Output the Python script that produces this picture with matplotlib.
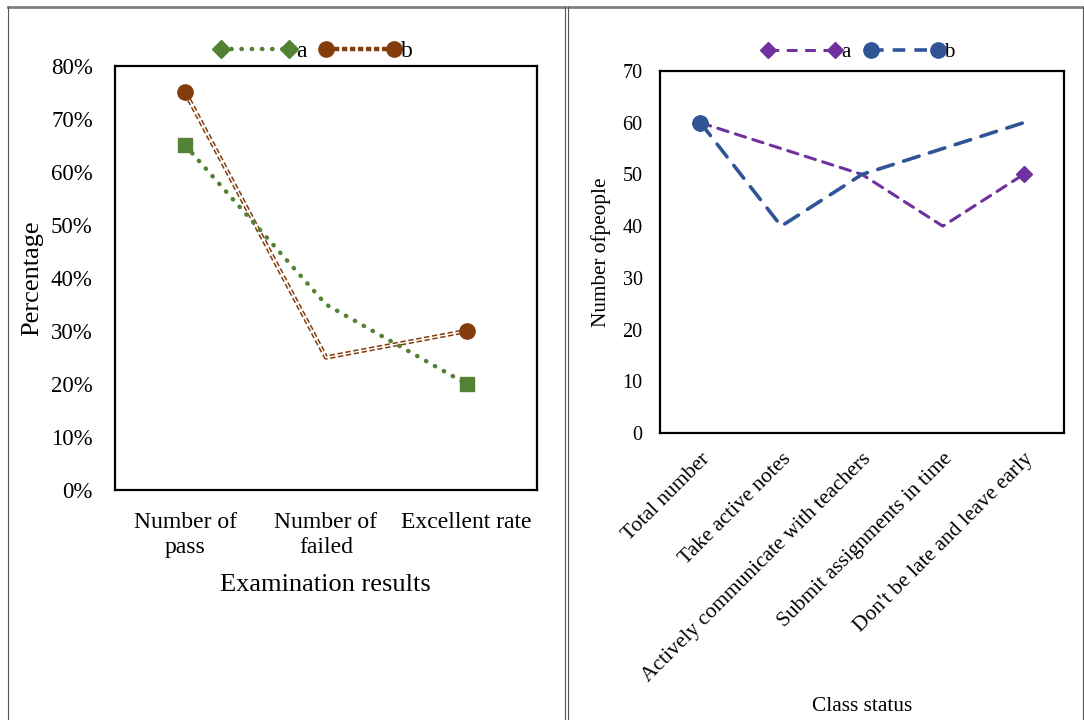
import matplotlib.pyplot as plt
from matplotlib.lines import Line2D

plt.rcParams['font.family'] = ['Liberation Serif', 'DejaVu Serif']

# ---- data ----
exam_cats = ['Number of\npass', 'Number of\nfailed', 'Excellent rate']
exam_a = [65, 35, 20]   # percent
exam_b = [75, 25, 30]

class_cats = ['Total number', 'Take active notes', 'Actively communicate with teachers',
              'Submit assignments in time', "Don't be late and leave early"]
class_a = [60, 55, 50, 40, 50]
class_b = [60, 40, 50, 55, 60]

green = '#548235'
brown = '#843C0C'
purple = '#7030A0'
blue = '#2F5597'

W, H = 1084, 720
fig = plt.figure(figsize=(W / 100, H / 100), dpi=100)

def px(x0, y0, x1, y1):
    return [x0 / W, 1 - y1 / H, (x1 - x0) / W, (y1 - y0) / H]

# table-cell borders around the two panels
for x0, x1 in [(8, 565), (568, 1083)]:
    fig.add_artist(Line2D([x0 / W, x1 / W], [1 - 7 / H, 1 - 7 / H], color='#808080', lw=2,
                          transform=fig.transFigure))
    for x in (x0, x1):
        fig.add_artist(Line2D([x / W, x / W], [0, 1 - 7 / H], color='#555555', lw=0.8,
                              transform=fig.transFigure))

# ---------------------------------------------------------
# left: examination results
# ---------------------------------------------------------
ax = fig.add_axes(px(115, 66, 537, 490))
x = range(len(exam_cats))

ax.plot(x, exam_a, color=green, lw=3.2, linestyle=(0, (0.1, 2.2)), dash_capstyle='round',
        marker='s', ms=10, markevery=[0, 2], zorder=3)
# double-line look for series b
ax.plot(x, exam_b, color=brown, lw=3.2, linestyle=(0, (1.2, 0.6)), zorder=2)
ax.plot(x, exam_b, color='white', lw=1.0, zorder=2)
ax.plot([0, 2], [exam_b[0], exam_b[2]], linestyle='none', marker='o', ms=11,
        color=brown, zorder=4)

ax.set_xlim(-0.5, 2.5)
ax.set_ylim(0, 80)
ax.set_yticks(range(0, 81, 10))
ax.set_yticklabels([f'{v}%' for v in range(0, 81, 10)])
ax.set_xticks(list(x))
ax.set_xticklabels(exam_cats, linespacing=1.25)
ax.tick_params(axis='y', labelsize=16.5, length=0, pad=16)
ax.tick_params(axis='x', labelsize=17, length=0, pad=16)
for s in ax.spines.values():
    s.set_linewidth(1.6)
ax.set_ylabel('Percentage', fontsize=19)
ax.yaxis.set_label_coords(-0.171, 0.5)
ax.set_xlabel('Examination results', fontsize=19)
ax.xaxis.set_label_coords(0.498, -0.198)

h_a = Line2D([], [], color=green, lw=3.2, linestyle=(0, (0.1, 2.2)), dash_capstyle='round',
             marker='D', ms=9)
h_b = Line2D([], [], color=brown, lw=3.2, linestyle=(0, (1.2, 0.6)), marker='o', ms=11)
ax.legend([h_a, h_b], ['a', 'b'], loc='center', bbox_to_anchor=(0.47, 1.035),
          ncol=2, frameon=False, fontsize=17, numpoints=2, handlelength=3.5,
          handletextpad=0.0, columnspacing=0.5, borderaxespad=0)

# ---------------------------------------------------------
# right: class status
# ---------------------------------------------------------
ax = fig.add_axes(px(660, 71, 1064, 433))
x = range(len(class_cats))

ax.plot(x, class_a, color=purple, lw=2.2, linestyle=(0, (3.5, 2.5)), dash_capstyle='round',
        marker='D', ms=8, markevery=[0, 4], zorder=2)
ax.plot(x, class_b, color=blue, lw=2.6, linestyle=(0, (4.5, 3)), dash_capstyle='round',
        marker='o', ms=11, markevery=[0], zorder=3)

ax.set_xlim(-0.5, 4.5)
ax.set_ylim(0, 70)
ax.set_yticks(range(0, 71, 10))
ax.set_xticks(list(x))
ax.set_xticklabels(class_cats, rotation=45, ha='right', rotation_mode='anchor')
ax.tick_params(axis='y', labelsize=14.5, length=0, pad=12.5)
ax.tick_params(axis='x', labelsize=15.5, length=0, pad=12)
for s in ax.spines.values():
    s.set_linewidth(1.6)
ax.set_ylabel('Number ofpeople', fontsize=15.3)
ax.yaxis.set_label_coords(-0.121, 0.5)
ax.set_xlabel('Class status', fontsize=15.3)
ax.xaxis.set_label_coords(0.5, -0.729)

h_a = Line2D([], [], color=purple, lw=2.2, linestyle=(0, (3.5, 2.5)), marker='D', ms=8)
h_b = Line2D([], [], color=blue, lw=2.6, linestyle=(0, (3.5, 2.5)), marker='o', ms=11)
ax.legend([h_a, h_b], ['a', 'b'], loc='center', bbox_to_anchor=(0.49, 1.052),
          ncol=2, frameon=False, fontsize=15, numpoints=2, handlelength=3.8,
          handletextpad=0.0, columnspacing=0.7, borderaxespad=0)

fig.savefig('out.png', dpi=100)
